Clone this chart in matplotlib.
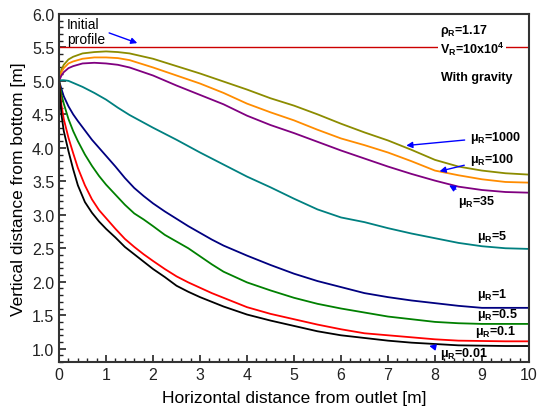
import matplotlib
matplotlib.use("Agg")
import matplotlib.pyplot as plt
from matplotlib.ticker import MultipleLocator

plt.rcParams['font.family'] = ['Liberation Sans', 'DejaVu Sans']
plt.rcParams['mathtext.fontset'] = 'custom'
plt.rcParams['mathtext.rm'] = 'Liberation Sans'
plt.rcParams['mathtext.bf'] = 'Liberation Sans:bold'

# lower curves (steep drop near the outlet)
x_low = [0, 0.05, 0.1, 0.2, 0.3, 0.4, 0.55, 0.7, 0.85, 1.0, 1.2, 1.4, 1.6, 1.8,
         2.0, 2.25, 2.5, 2.75, 3.0, 3.25, 3.5, 4.0, 4.5, 5.0, 5.5, 6.0, 6.5,
         7.0, 7.5, 8.0, 8.5, 9.0, 9.5, 10.0]
mu_001 = [5.0, 4.50, 4.25, 3.95, 3.68, 3.44, 3.19, 3.03, 2.90, 2.79, 2.66, 2.52,
          2.41, 2.30, 2.19, 2.07, 1.94, 1.85, 1.77, 1.70, 1.63, 1.51, 1.42, 1.34,
          1.26, 1.20, 1.16, 1.12, 1.09, 1.07, 1.05, 1.045, 1.04, 1.04]
mu_01 = [5.0, 4.64, 4.43, 4.15, 3.92, 3.70, 3.44, 3.23, 3.07, 2.95, 2.79, 2.64,
         2.52, 2.41, 2.31, 2.19, 2.08, 1.99, 1.91, 1.83, 1.76, 1.62, 1.52, 1.44,
         1.36, 1.29, 1.23, 1.20, 1.17, 1.14, 1.12, 1.115, 1.11, 1.11]
mu_05 = [5.0, 4.80, 4.66, 4.43, 4.25, 4.10, 3.90, 3.73, 3.58, 3.45, 3.30, 3.15,
         3.02, 2.93, 2.83, 2.70, 2.60, 2.50, 2.38, 2.26, 2.15, 1.99, 1.87, 1.76,
         1.67, 1.60, 1.54, 1.48, 1.44, 1.40, 1.38, 1.37, 1.37, 1.37]
mu_1 = [5.0, 4.88, 4.77, 4.62, 4.50, 4.40, 4.26, 4.12, 4.00, 3.88, 3.72, 3.55,
        3.40, 3.28, 3.17, 3.05, 2.94, 2.83, 2.73, 2.63, 2.54, 2.39, 2.25, 2.12,
        2.01, 1.92, 1.83, 1.77, 1.72, 1.68, 1.64, 1.61, 1.61, 1.61]

# upper curves
x_up = [0, 0.05, 0.1, 0.2, 0.3, 0.5, 0.75, 1.0, 1.25, 1.5, 2.0, 2.5, 3.0, 3.5,
        4.0, 4.5, 5.0, 5.5, 6.0, 6.5, 7.0, 7.5, 8.0, 8.5, 9.0, 9.5, 10.0]
mu_5 = [5.0, 5.01, 5.01, 5.0, 4.97, 4.91, 4.82, 4.72, 4.60, 4.49, 4.30, 4.12,
        3.93, 3.75, 3.57, 3.41, 3.24, 3.08, 2.96, 2.89, 2.80, 2.72, 2.65, 2.58,
        2.53, 2.50, 2.49]
mu_35 = [5.0, 5.08, 5.13, 5.19, 5.22, 5.26, 5.27, 5.26, 5.24, 5.20, 5.08, 4.93,
         4.79, 4.65, 4.48, 4.34, 4.22, 4.09, 3.96, 3.84, 3.72, 3.61, 3.51, 3.42,
         3.37, 3.34, 3.33]
mu_100 = [5.0, 5.13, 5.19, 5.26, 5.29, 5.33, 5.35, 5.35, 5.34, 5.31, 5.20, 5.08,
          4.96, 4.82, 4.66, 4.53, 4.41, 4.27, 4.14, 4.04, 3.93, 3.80, 3.66, 3.59,
          3.53, 3.49, 3.48]
mu_1000 = [5.0, 5.17, 5.24, 5.32, 5.36, 5.41, 5.43, 5.44, 5.43, 5.41, 5.33, 5.22,
           5.11, 4.99, 4.87, 4.74, 4.63, 4.50, 4.36, 4.23, 4.11, 3.97, 3.82, 3.72,
           3.66, 3.62, 3.60]

initial_height = 5.5

fig = plt.figure(figsize=(5.37, 4.14), dpi=100)
ax = fig.add_axes([0.110, 0.123, 0.875, 0.841])

lw = 1.3
ax.axhline(initial_height, color='#cc0000', lw=1.0)
ax.plot(x_up, mu_1000, color='#8c8c00', lw=lw)
ax.plot(x_up, mu_100, color='#ff8c00', lw=lw)
ax.plot(x_up, mu_35, color='#800080', lw=lw)
ax.plot(x_up, mu_5, color='#008080', lw=lw)
ax.plot(x_low, mu_1, color='#000080', lw=lw)
ax.plot(x_low, mu_05, color='#008000', lw=lw)
ax.plot(x_low, mu_01, color='#ff0000', lw=lw)
ax.plot(x_low, mu_001, color='black', lw=lw)

ax.set_xlim(0, 10)
ax.set_ylim(0.8, 6.0)
ax.xaxis.set_major_locator(MultipleLocator(1))
ax.xaxis.set_minor_locator(MultipleLocator(0.2))
ax.yaxis.set_major_locator(MultipleLocator(0.5))
ax.yaxis.set_minor_locator(MultipleLocator(0.1))
ax.yaxis.set_major_formatter(plt.FuncFormatter(lambda v, p: '%.1f' % v))
ax.tick_params(which='both', direction='in', top=False, right=False,
               labelsize=11.5, colors='#222222')
ax.tick_params(which='major', length=5, width=1.2)
ax.tick_params(which='minor', length=3, width=1.0)
for s in ax.spines.values():
    s.set_linewidth(1.5)
    s.set_color('#333333')

ax.set_xlabel('Horizontal distance from outlet [m]', fontsize=12.5, labelpad=6)
ax.set_ylabel('Vertical distance from bottom [m]', fontsize=12.5, labelpad=4)

arrow = dict(arrowstyle='-|>', color='#0000ff', lw=1.0, mutation_scale=9)
fs = 9

ax.text(0.17, 5.74, 'Initial\nprofile', fontsize=10, va='center',
        linespacing=1.05)
ax.annotate('', xy=(1.72, 5.55), xytext=(1.01, 5.73), arrowprops=arrow)

ax.text(8.1, 5.76, r'ρ$_\mathbf{R}$=1.17', fontsize=fs, fontweight='bold',
        va='center')
ax.text(8.1, 5.49, r'V$_\mathbf{R}$=10x10$^\mathbf{4}$', fontsize=fs,
        fontweight='bold', va='center',
        bbox=dict(facecolor='white', edgecolor='none', pad=1.5))
ax.text(8.12, 5.06, 'With gravity', fontsize=fs, fontweight='bold', va='center')

ax.annotate(r'μ$_\mathbf{R}$=1000', xy=(7.33, 4.03), xytext=(8.75, 4.16),
            fontsize=fs, fontweight='bold', va='center', arrowprops=arrow)
ax.annotate(r'μ$_\mathbf{R}$=100', xy=(8.04, 3.64), xytext=(8.74, 3.84),
            fontsize=fs, fontweight='bold', va='center', arrowprops=arrow)
ax.annotate(r'μ$_\mathbf{R}$=35', xy=(8.25, 3.46), xytext=(8.5, 3.20),
            fontsize=fs, fontweight='bold', va='center', arrowprops=arrow)
ax.text(8.89, 2.69, r'μ$_\mathbf{R}$=5', fontsize=fs, fontweight='bold',
        va='center')
ax.text(8.89, 1.82, r'μ$_\mathbf{R}$=1', fontsize=fs, fontweight='bold',
        va='center')
ax.text(8.89, 1.52, r'μ$_\mathbf{R}$=0.5', fontsize=fs, fontweight='bold',
        va='center')
ax.text(8.86, 1.26, r'μ$_\mathbf{R}$=0.1', fontsize=fs, fontweight='bold',
        va='center')
ax.annotate(r'μ$_\mathbf{R}$=0.01', xy=(7.82, 1.05), xytext=(8.1, 0.93),
            fontsize=fs, fontweight='bold', va='center', arrowprops=arrow)

fig.savefig('out.png', dpi=100)
